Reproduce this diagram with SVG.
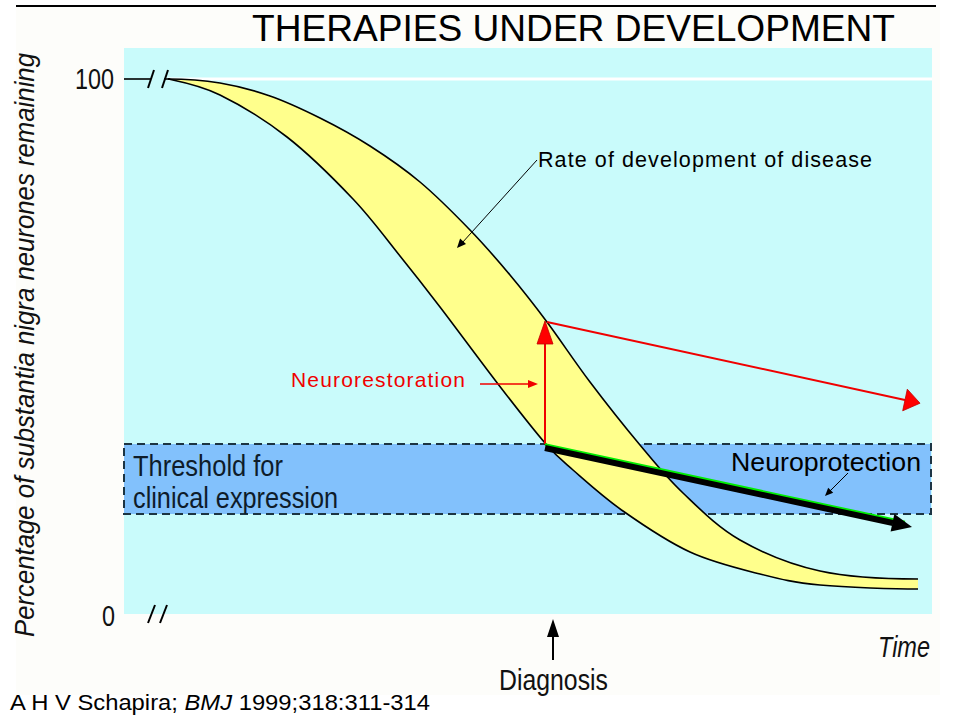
<svg xmlns="http://www.w3.org/2000/svg" width="960" height="720" viewBox="0 0 960 720">
<style>
.sans{font-family:"Liberation Sans",Arial,"DejaVu Sans",sans-serif;}
.narrow{font-family:"Liberation Sans Narrow","Liberation Sans",Arial,sans-serif;}
.curve{fill:none;stroke:#000;stroke-width:1.6;}
.dash{fill:none;stroke:#1c3442;stroke-width:2;stroke-dasharray:8 5;}
.red{stroke:#f00000;stroke-width:2;fill:none;}
.redhead{fill:#ff0000;stroke:#c00000;stroke-width:0.8;}
.thin{stroke:#000;stroke-width:1;fill:none;}
</style>
<rect x="0" y="0" width="960" height="720" fill="#ffffff"/>
<rect x="16" y="7" width="924" height="688" fill="#fdfdfa"/>
<line x1="16" y1="6" x2="936" y2="6" stroke="#000" stroke-width="2"/>

<g id="title">
<text class="sans" x="252" y="41" font-size="36" textLength="643" lengthAdjust="spacingAndGlyphs" fill="#000">THERAPIES UNDER DEVELOPMENT</text>
</g>

<g id="plot-area">
<rect x="124" y="48" width="808" height="566" fill="#c9fbfb"/>
<line x1="168" y1="79" x2="932" y2="79" stroke="#ffffff" stroke-width="3"/>
</g>

<g id="threshold">
<rect x="124" y="444" width="807" height="70" fill="#82c1fc"/>
<rect x="124" y="444" width="807" height="70" class="dash"/>
<text class="narrow" x="133" y="476" font-size="29" textLength="150" lengthAdjust="spacingAndGlyphs" fill="#0e1c2a">Threshold for</text>
<text class="narrow" x="133" y="508" font-size="29" textLength="205" lengthAdjust="spacingAndGlyphs" fill="#0e1c2a">clinical expression</text>
</g>

<g id="disease-band">
<path fill="#ffff8c" stroke="none" d="M168,79 C185,79 203,80.2 220,83 C237,85.8 253.3,90.2 270,96 C286.7,101.8 303.3,109.7 320,118 C336.7,126.3 353.3,135.3 370,146 C386.7,156.7 403.3,168 420,182 C436.7,196 455,214.5 470,230 C485,245.5 497.2,259.7 510,275 C522.8,290.3 533.7,304.2 547,322 C560.3,339.8 574.5,361.5 590,382 C605.5,402.5 624.5,426.5 640,445 C655.5,463.5 666.3,477.2 683,493 C699.7,508.8 717.2,527 740,540 C762.8,553 790.3,564.5 820,571 C849.7,577.5 895,579 918,579 L918,589 C895,589 846.3,587.5 820,585 C793.7,582.5 781.7,579.5 760,574 C738.3,568.5 712.8,562.5 690,552 C667.2,541.5 642.5,524.7 623,511 C603.5,497.3 586,481.3 573,470 C560,458.7 557.5,457.3 545,443 C532.5,428.7 515.5,406.7 498,384 C480.5,361.3 456.3,328.3 440,307 C423.7,285.7 414.5,274 400,256 C385.5,238 371.8,218.8 353,199 C334.2,179.2 309.2,154.3 287,137 C264.8,119.7 239.8,104.7 220,95 C200.2,85.3 182,82 168,79 Z"/>
<path class="curve" d="M168,79 C185,79 203,80.2 220,83 C237,85.8 253.3,90.2 270,96 C286.7,101.8 303.3,109.7 320,118 C336.7,126.3 353.3,135.3 370,146 C386.7,156.7 403.3,168 420,182 C436.7,196 455,214.5 470,230 C485,245.5 497.2,259.7 510,275 C522.8,290.3 533.7,304.2 547,322 C560.3,339.8 574.5,361.5 590,382 C605.5,402.5 624.5,426.5 640,445 C655.5,463.5 666.3,477.2 683,493 C699.7,508.8 717.2,527 740,540 C762.8,553 790.3,564.5 820,571 C849.7,577.5 895,579 918,579"/>
<path class="curve" d="M168,79 C182,82 200.2,85.3 220,95 C239.8,104.7 264.8,119.7 287,137 C309.2,154.3 334.2,179.2 353,199 C371.8,218.8 385.5,238 400,256 C414.5,274 423.7,285.7 440,307 C456.3,328.3 480.5,361.3 498,384 C515.5,406.7 532.5,428.7 545,443 C557.5,457.3 560,458.7 573,470 C586,481.3 603.5,497.3 623,511 C642.5,524.7 667.2,541.5 690,552 C712.8,562.5 738.3,568.5 760,574 C781.7,579.5 793.7,582.5 820,585 C846.3,587.5 895,589 918,589"/>
</g>

<g id="axes">
<line x1="124" y1="79" x2="151" y2="79" stroke="#000" stroke-width="1.6"/>
<line x1="164" y1="79" x2="170" y2="79" stroke="#000" stroke-width="1.6"/>
<line x1="148" y1="88" x2="154" y2="70" stroke="#000" stroke-width="2"/>
<line x1="162" y1="88" x2="168" y2="70" stroke="#000" stroke-width="2"/>
<line x1="148" y1="623" x2="155" y2="605" stroke="#000" stroke-width="2"/>
<line x1="160" y1="623" x2="167" y2="605" stroke="#000" stroke-width="2"/>
<text class="narrow" x="75" y="89" font-size="29" textLength="39" lengthAdjust="spacingAndGlyphs" fill="#111">100</text>
<text class="narrow" x="102" y="626" font-size="29" textLength="13" lengthAdjust="spacingAndGlyphs" fill="#111">0</text>
<text class="narrow" transform="translate(34,637) rotate(-90)" x="0" y="0" font-size="27" font-style="italic" textLength="584" lengthAdjust="spacingAndGlyphs" fill="#111">Percentage of substantia nigra neurones remaining</text>
<text class="narrow" x="878" y="657" font-size="29" font-style="italic" textLength="52" lengthAdjust="spacingAndGlyphs" fill="#111">Time</text>
</g>

<g id="labels">
<text class="sans" x="538" y="167" font-size="21.5" textLength="334" lengthAdjust="spacing" fill="#000">Rate of development of disease</text>
<text class="sans" x="291" y="387" font-size="21" textLength="174" lengthAdjust="spacing" fill="#f00000">Neurorestoration</text>
<text class="sans" x="731" y="471" font-size="25" textLength="190" lengthAdjust="spacingAndGlyphs" fill="#000">Neuroprotection</text>
<text class="narrow" x="499" y="690" font-size="29" textLength="109" lengthAdjust="spacingAndGlyphs" fill="#111">Diagnosis</text>
<text class="sans" x="10" y="710" font-size="22" textLength="420" lengthAdjust="spacingAndGlyphs" fill="#000">A H V Schapira; <tspan font-style="italic">BMJ</tspan> 1999;318:311-314</text>
</g>

<g id="connectors">
<line class="red" x1="545" y1="444" x2="545" y2="340"/>
<polygon class="redhead" points="545,321 553,344 537,344"/>
<line class="red" x1="547" y1="322" x2="905" y2="400"/>
<polygon class="redhead" points="920,403.2 902.7,410.8 907.3,389.2"/>
<line x1="480" y1="384" x2="530" y2="384" stroke="#f00000" stroke-width="1.5"/>
<polygon points="538,384 528,380 528,388" fill="#f00000"/>
<line x1="545" y1="444.5" x2="905" y2="522" stroke="#00ee00" stroke-width="2.5"/>
<line x1="545" y1="448" x2="893" y2="523" stroke="#000" stroke-width="6"/>
<polygon points="912,527 890.6,531.6 894.4,514" fill="#000"/>
<line class="thin" x1="537" y1="160" x2="462" y2="243"/>
<polygon points="457,248 466,244 460.1,238.6" fill="#000"/>
<line class="thin" x1="848" y1="473" x2="830" y2="491"/>
<polygon points="825,496 833.2,492.8 828.2,487.8" fill="#000"/>
<line x1="553" y1="660" x2="553" y2="632" stroke="#000" stroke-width="2"/>
<polygon points="553,619 559,637 547,637" fill="#000"/>
</g>
</svg>
